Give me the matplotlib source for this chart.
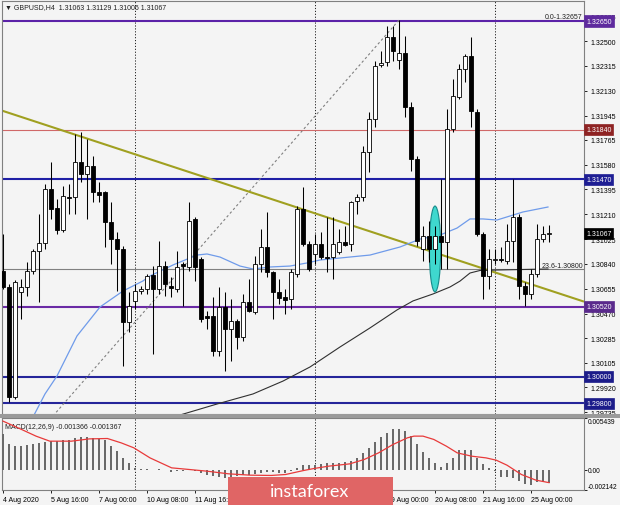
import matplotlib
matplotlib.use("Agg")
import matplotlib.pyplot as plt
from matplotlib.patches import Rectangle, Ellipse
from matplotlib.transforms import blended_transform_factory
import numpy as np

plt.rcParams['font.family'] = ['Liberation Sans', 'DejaVu Sans']

# ---------------- data ----------------
bar_idx = list(range(92))
opens = [1.30787, 1.30668, 1.29848, 1.30631, 1.30668, 1.30787, 1.30936, 1.30996, 1.31398, 1.31257,
         1.31093, 1.31339, 1.31339, 1.31599, 1.31510, 1.31570, 1.31376, 1.31376, 1.31152, 1.31025,
         1.30951, 1.30407, 1.30564, 1.30638, 1.30653, 1.30757, 1.30653, 1.30824, 1.30675, 1.30653,
         1.30839, 1.30817, 1.31175, 1.30877, 1.30452, 1.30452, 1.30191, 1.30519, 1.30355, 1.30415,
         1.30295, 1.30556, 1.30482, 1.30839, 1.30966, 1.30780, 1.30631, 1.30593, 1.30578, 1.30765,
         1.31249, 1.30986, 1.30914, 1.30986, 1.30895, 1.30891, 1.30929, 1.31003, 1.30986, 1.31309,
         1.31339, 1.31674, 1.31920, 1.32322, 1.32344, 1.32531, 1.32359, 1.32412, 1.32009, 1.31622,
         1.30951, 1.31048, 1.30951, 1.31048, 1.31003, 1.31845, 1.32084, 1.32292, 1.32389, 1.31972,
         1.31063, 1.30750, 1.30869, 1.30877, 1.30862, 1.31011, 1.31190, 1.30675, 1.30616, 1.30765,
         1.31025, 1.31063]
highs = [1.31063, 1.30690, 1.30720, 1.30727, 1.30854, 1.30951, 1.31212, 1.31435, 1.31599, 1.31324,
         1.31420, 1.31435, 1.31808, 1.31823, 1.31771, 1.31644, 1.31450, 1.31383, 1.31301, 1.31078,
         1.30973, 1.30631, 1.30690, 1.30675, 1.30765, 1.30824, 1.31011, 1.30862, 1.30742, 1.30936,
         1.30854, 1.31301, 1.31190, 1.30891, 1.30489, 1.30593, 1.30668, 1.30631, 1.30578, 1.30429,
         1.30616, 1.30727, 1.30899, 1.31100, 1.31227, 1.30790, 1.30727, 1.30653, 1.30802, 1.31272,
         1.31413, 1.31011, 1.31063, 1.31078, 1.31190, 1.31190, 1.31100, 1.31122, 1.31309, 1.31361,
         1.31719, 1.31972, 1.32352, 1.32426, 1.32613, 1.32613, 1.32657, 1.32538, 1.32046, 1.31644,
         1.31122, 1.31160, 1.31122, 1.31473, 1.31994, 1.32218, 1.32330, 1.32404, 1.32531, 1.31994,
         1.31078, 1.30951, 1.30951, 1.30966, 1.31137, 1.31473, 1.31212, 1.30705, 1.30802, 1.31137,
         1.31122, 1.31129]
lows = [1.30650, 1.29811, 1.29830, 1.30429, 1.30601, 1.30765, 1.30556, 1.30951, 1.31175, 1.31063,
        1.31078, 1.31212, 1.31212, 1.31450, 1.31175, 1.31301, 1.31301, 1.30966, 1.30839, 1.30638,
        1.30079, 1.30333, 1.30504, 1.30616, 1.30616, 1.30169, 1.30616, 1.30601, 1.30593, 1.30631,
        1.30526, 1.30787, 1.30712, 1.30407, 1.30355, 1.30154, 1.30154, 1.30042, 1.30117, 1.30206,
        1.30265, 1.30482, 1.30467, 1.30780, 1.30742, 1.30429, 1.30541, 1.30467, 1.30504, 1.30742,
        1.30973, 1.30787, 1.30839, 1.30877, 1.30780, 1.30727, 1.30914, 1.30973, 1.30936, 1.31212,
        1.31309, 1.31525, 1.31860, 1.32307, 1.32315, 1.32352, 1.32292, 1.31935, 1.31532, 1.30973,
        1.30862, 1.30854, 1.30839, 1.30802, 1.30802, 1.31823, 1.32069, 1.32195, 1.31860, 1.31048,
        1.30578, 1.30653, 1.30839, 1.30854, 1.30839, 1.30854, 1.30578, 1.30526, 1.30578, 1.30742,
        1.31003, 1.31006]
closes = [1.30668, 1.29848, 1.30705, 1.30668, 1.30787, 1.30936, 1.30996, 1.31398, 1.31249, 1.31093,
          1.31346, 1.31331, 1.31599, 1.31510, 1.31570, 1.31376, 1.31355, 1.31152, 1.31025, 1.30951,
          1.30407, 1.30526, 1.30638, 1.30653, 1.30750, 1.30653, 1.30824, 1.30690, 1.30660, 1.30817,
          1.30824, 1.31160, 1.30817, 1.30429, 1.30437, 1.30191, 1.30519, 1.30355, 1.30415, 1.30295,
          1.30556, 1.30489, 1.30839, 1.30966, 1.30780, 1.30631, 1.30586, 1.30571, 1.30780, 1.31249,
          1.30986, 1.30802, 1.30986, 1.30891, 1.30887, 1.30986, 1.31003, 1.30981, 1.31301, 1.31339,
          1.31674, 1.31920, 1.32315, 1.32337, 1.32531, 1.32426, 1.32412, 1.32009, 1.31622, 1.31011,
          1.31048, 1.30951, 1.31048, 1.31003, 1.31845, 1.32091, 1.32292, 1.32389, 1.31979, 1.31063,
          1.30750, 1.30877, 1.30875, 1.30869, 1.31011, 1.31190, 1.30675, 1.30616, 1.30765, 1.31025,
          1.31063, 1.31067]

# moving averages (sampled points: bar index, price)
blue_ma_idx = [5, 7, 9, 12.33, 16.17, 20, 23.33, 24.5, 28.33, 32.33, 34, 36.17, 39.5, 41.67, 44.5,
               47.83, 50.67, 52.83, 56.17, 61.17, 66.17, 69.5, 72.83, 75.67, 77.83, 80, 82.33, 84.5,
               86.67, 90.83]
blue_ma_val = [1.29699, 1.29871, 1.30005, 1.30303, 1.30519, 1.30638, 1.30713, 1.30750, 1.30832,
               1.30906, 1.30914, 1.30891, 1.30824, 1.30802, 1.30817, 1.30824, 1.30847, 1.30869,
               1.30884, 1.30906, 1.30966, 1.31025, 1.31055, 1.31107, 1.31175, 1.31175, 1.31167,
               1.31197, 1.31227, 1.31264]
black_ma_idx = [29.5, 35.67, 41.67, 46.67, 51.17, 56.17, 61.17, 65.67, 68.33, 71.67, 74.5, 76.17,
                77.83, 79.5, 82.83, 90.83]
black_ma_val = [1.29714, 1.29796, 1.29871, 1.29967, 1.30072, 1.30221, 1.30363, 1.30497, 1.30564,
                1.30616, 1.30668, 1.30712, 1.30772, 1.30791, 1.30795, 1.30802]

# horizontal levels
level_prices = [1.32650, 1.31840, 1.31470, 1.30520, 1.30000, 1.29800]
level_labels = ['1.32650', '1.31840', '1.31470', '1.30520', '1.30000', '1.29800']
fib_level_price = 1.30800
fib_level_text = '23.6-1.30800'
fib_top_price = 1.32657
fib_top_text = '0.0-1.32657'
fib_line_idx = [8.33, 66.0]
fib_line_val = [1.29707, 1.32657]
trend_idx = [-0.5, 96.83]
trend_val = [1.31987, 1.30559]

# right price-axis ticks
price_ticks = [1.32685, 1.32500, 1.32315, 1.32130, 1.31945, 1.31765, 1.31580, 1.31395, 1.31210,
               1.31025, 1.30840, 1.30655, 1.30470, 1.30285, 1.30105, 1.29920, 1.29735]

# time axis
xtick_idx = [0, 8, 16, 24, 32, 40, 48, 56, 64, 72, 80, 88]
xtick_labels = ['4 Aug 2020', '5 Aug 16:00', '7 Aug 00:00', '10 Aug 08:00', '11 Aug 16:00',
                '13 Aug 00:00', '14 Aug 08:00', '17 Aug 16:00', '19 Aug 00:00', '20 Aug 08:00',
                '21 Aug 16:00', '25 Aug 00:00']
week_sep_idx = [22, 52, 82]

# MACD
macd_vals = [0.00371, 0.00265, 0.00247, 0.00247, 0.00258, 0.00265, 0.00276, 0.00293, 0.00300, 0.00300,
             0.00307, 0.00311, 0.00335, 0.00342, 0.00342, 0.00335, 0.00324, 0.00307, 0.00247, 0.00195,
             0.00124, 0.00065, 0.00013, 0.00005, 0.00002, -0.00003, 0.00002, -0.00002, -0.00020, -0.00012,
             -0.00016, 0.00004, -0.00010, -0.00030, -0.00051, -0.00068, -0.00075, -0.00086, -0.00079, -0.00068,
             -0.00051, -0.00051, -0.00044, -0.00033, -0.00028, -0.00028, -0.00033, -0.00033, -0.00016, 0.00019,
             0.00044, 0.00044, 0.00054, 0.00061, 0.00065, 0.00065, 0.00072, 0.00079, 0.00096, 0.00124,
             0.00177, 0.00230, 0.00290, 0.00342, 0.00388, 0.00423, 0.00433, 0.00405, 0.00353, 0.00265,
             0.00188, 0.00124, 0.00072, 0.00026, 0.00065, 0.00124, 0.00212, 0.00212, 0.00212, 0.00124,
             0.00061, 0.00019, -0.00010, -0.00079, -0.00079, -0.00086, -0.00121, -0.00149, -0.00163, -0.00135,
             -0.00135, -0.001366]
signal_idx = [0, 3.1, 5.5, 7.8, 11.4, 14.4, 17.4, 19.7, 21.8, 24.5, 28.1, 31.0, 34.0, 37.6, 41.2,
              44.7, 47.1, 50.1, 51.9, 54.3, 57.8, 60.2, 62.6, 65.0, 67.4, 68.5, 70.0, 71.8, 73.9,
              75.7, 78.1, 80.5, 82.2, 84.0, 86.4, 88.8, 91.0]
signal_vals = [0.00511, 0.00423, 0.00353, 0.00300, 0.00300, 0.00324, 0.00328, 0.00282, 0.00230,
               0.00124, 0.00019, 0.00002, -0.00016, -0.00044, -0.00058, -0.00061, -0.00051, -0.00009,
               0.00013, 0.00037, 0.00061, 0.00107, 0.00177, 0.00265, 0.00335, 0.00353, 0.00353,
               0.00318, 0.00247, 0.00177, 0.00142, 0.00124, 0.00100, 0.00047, -0.00051, -0.00110,
               -0.001367]
macd_top, macd_bottom = 0.005439, -0.002142

# ---------------- figure ----------------
W, H = 620, 506
fig = plt.figure(figsize=(W / 100, H / 100), dpi=100)
BG = '#F4F4F4'
fig.patch.set_facecolor(BG)
FS = 5


def fx(px):
    return px / W


def fy(py):
    return 1 - py / H


X_LEFT, X_RIGHT = 2, 584
ax = fig.add_axes([fx(X_LEFT), fy(415), (X_RIGHT - X_LEFT) / W, (415 - 2) / H])
axm = fig.add_axes([fx(X_LEFT), fy(491), (X_RIGHT - X_LEFT) / W, (491 - 419) / H])

i_left = (X_LEFT - 3) / 6
i_right = (X_RIGHT - 3) / 6


def price_at(y):
    return 1.3265 - (y - 22) / 13420


for a in (ax, axm):
    a.set_xlim(i_left, i_right)
    a.set_facecolor(BG)
    for s in a.spines.values():
        s.set_color('#808080')
        s.set_linewidth(0.8)
ax.set_ylim(price_at(415), price_at(2))
axm.set_ylim(macd_bottom, macd_top)

# week separators
for a in (ax, axm):
    for w in week_sep_idx:
        a.axvline(w, color='#202020', lw=0.7, ls=(0, (1.2, 1.8)), zorder=1)

# horizontal levels
line_colors = ['#5B22A8', '#D06868', '#1F1FA5', '#6A2AA5', '#25259A', '#25259A']
line_widths = [1.5, 0.8, 1.5, 1.5, 1.5, 1.5]
box_colors = ['#5E2A9E', '#8E2323', '#1E1E94', '#5A2A8C', '#1C1C8A', '#1C1C8A']
for p, c, lw in zip(level_prices, line_colors, line_widths):
    ax.axhline(p, color=c, lw=lw, zorder=2)
ax.axhline(fib_level_price, color='#808080', lw=0.8, zorder=2)

# trend line
ax.plot(trend_idx, trend_val, color='#A0A020', lw=1.5, zorder=2.5, solid_capstyle='butt')
# fib diagonal
ax.plot(fib_line_idx, fib_line_val, color='#808080', lw=0.8, ls=(0, (2.2, 2.2)), zorder=2)

# moving averages
ax.plot(blue_ma_idx, blue_ma_val, color='#6F9BEA', lw=0.9, zorder=2.6)
ax.plot(black_ma_idx, black_ma_val, color='#303030', lw=0.8, zorder=2.6)

# ellipse highlight
ax.add_patch(Ellipse((72, 1.30951), width=1.9, height=0.0064, facecolor='#3FD8CE',
                     edgecolor='#168A8A', lw=0.8, zorder=3))

# candles
o = np.array(opens)
c = np.array(closes)
bull = c >= o
ax.vlines(bar_idx, lows, highs, colors='black', lw=0.75, zorder=4)
body_bottom = np.minimum(o, c)
body_h = np.maximum(np.abs(c - o), 0.000012)
ax.bar(bar_idx, body_h, bottom=body_bottom, width=0.72,
       color=np.where(bull, 'white', 'black'), edgecolor='black', linewidth=0.6, zorder=5)

# price axis
ax.yaxis.tick_right()
ax.set_yticks(price_ticks)
ax.set_yticklabels([f'{t:.5f}' for t in price_ticks])
ax.tick_params(axis='y', length=2.5, width=0.6, pad=2, labelsize=FS, colors='black')
ax.set_xticks([])

bt = blended_transform_factory(ax.transAxes, ax.transData)
box_x = 1.0 + 2 / (X_RIGHT - X_LEFT)
for p, lab, bc in zip(level_prices, level_labels, box_colors):
    ax.text(box_x, p, lab, transform=bt, ha='left', va='center', color='white', fontsize=FS,
            zorder=20, clip_on=False,
            bbox=dict(boxstyle='square,pad=0.3', fc=bc, ec=bc, lw=0.5))
ax.text(box_x, closes[-1], f'{closes[-1]:.5f}', transform=bt, ha='left', va='center',
        color='white', fontsize=FS, zorder=20, clip_on=False,
        bbox=dict(boxstyle='square,pad=0.3', fc='black', ec='black', lw=0.5))

# fib labels
ax.text(0.998, fib_top_price, fib_top_text, transform=bt, ha='right', va='bottom',
        fontsize=FS, color='#202020', zorder=6)
ax.text(0.998, fib_level_price, fib_level_text, transform=bt, ha='right', va='bottom',
        fontsize=FS, color='#202020', zorder=6)

# MACD
axm.bar(bar_idx, macd_vals, width=0.3, color='#6A6A6A', zorder=3)
axm.plot(signal_idx, signal_vals, color='#E83A3A', lw=0.9, zorder=4)
axm.yaxis.tick_right()
axm.set_yticks([macd_top, 0.0, macd_bottom])
axm.set_yticklabels(['0.005439', '0.00', '-0.002142'])
axm.tick_params(axis='y', length=2, width=0.6, pad=1, labelsize=4.8)
ylabs = axm.get_yticklabels()
ylabs[0].set_va('top')
ylabs[2].set_va('bottom')
axm.set_xticks(xtick_idx)
axm.set_xticklabels(xtick_labels, ha='left')
axm.tick_params(axis='x', length=2.5, width=0.6, pad=2, labelsize=FS)
axm.text(0.005, 0.93, 'MACD(12,26,9) -0.001366 -0.001367', transform=axm.transAxes,
         ha='left', va='top', fontsize=FS, color='#202020')

# title
fig.text(fx(5), fy(7.5), '\u25BC GBPUSD,H4  1.31063 1.31129 1.31006 1.31067', ha='left',
         va='center', fontsize=FS, color='#202020')

# panel separator
fig.add_artist(Rectangle((fx(0), fy(418.5)), 1, 3.5 / H, transform=fig.transFigure,
                         fc='#9A9A9A', ec='none', zorder=5))

# instaforex banner
fig.add_artist(Rectangle((fx(228), 0), (393 - 228) / W, (506 - 477.5) / H,
                         transform=fig.transFigure, fc='#E06565', ec='none', zorder=10))
fig.text(fx(310), fy(492), 'instaforex', color='white', fontsize=13, ha='center',
         va='center', zorder=11, family=['Lato', 'DejaVu Sans'])

fig.savefig('out.png', dpi=100, facecolor=BG)
